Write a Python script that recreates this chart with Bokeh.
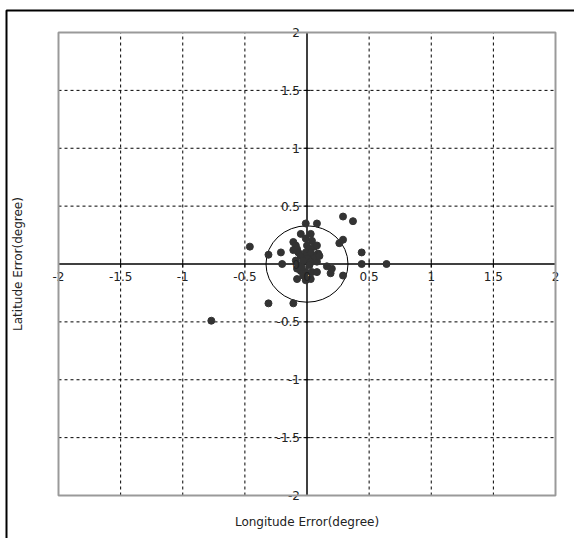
import math
from bokeh.plotting import figure
from bokeh.models import Range1d, BoxAnnotation
from bokeh.core.properties import value
from bokeh.embed import file_html
from bokeh.resources import INLINE

# ---- data ----
lon_err = [0.29, 0.37, -0.01, 0.08, -0.46, -0.31, -0.21, 0.44, 0.44, 0.64,
           0.26, 0.29, -0.20, -0.08, -0.31, -0.11, 0.29, 0.19, 0.20, 0.16, -0.77,
           -0.05, 0.03, -0.01, 0.04, -0.11, -0.09, -0.08, -0.07, -0.11, -0.05,
           0.00, 0.02, 0.06, 0.08, 0.09, 0.04, 0.00, -0.03, 0.03, 0.08,
           -0.09, -0.08, -0.05, -0.01, 0.04, 0.08, -0.03, 0.03, -0.01, -0.07,
           -0.04, 0.02, 0.06, 0.10, -0.01, 0.03]
lat_err = [0.41, 0.37, 0.35, 0.35, 0.15, 0.08, 0.10, 0.10, 0.00, 0.00,
           0.18, 0.21, 0.00, -0.13, -0.34, -0.34, -0.10, -0.08, -0.04, -0.02, -0.49,
           0.26, 0.26, 0.22, 0.20, 0.19, 0.16, 0.13, 0.10, 0.12, 0.07,
           0.16, 0.13, 0.15, 0.16, 0.09, 0.07, 0.06, 0.03, 0.02, 0.02,
           0.03, -0.04, -0.06, -0.07, -0.07, -0.07, -0.10, -0.13, -0.14, -0.01,
           -0.03, -0.01, 0.07, 0.07, 0.10, 0.10]
circle_radius = 0.33
axis_min, axis_max = -2, 2
ticks = [-2, -1.5, -1, -0.5, 0, 0.5, 1, 1.5, 2]
tick_labels = ["-2", "-1.5", "-1", "-0.5", "0", "0.5", "1", "1.5", "2"]
grid_ticks = [-1.5, -1, -0.5, 0.5, 1, 1.5]
x_title = "Longitude Error(degree)"
y_title = "Latitude Error(degree)"

FONT = "DejaVu Sans"
W, H = 574, 538
# layout: plot area in pixels (left, right, top, bottom)
PL, PR, PT, PB = 58, 555, 32, 495
kx = (PR - PL) / (axis_max - axis_min)
ky = (PB - PT) / (axis_max - axis_min)
cx = PL - axis_min * kx
cy = PT + axis_max * ky


def px2x(px):
    return (px - cx) / kx


def py2y(py):
    return (cy - py) / ky


p = figure(width=W, height=H, output_backend="svg", toolbar_location=None,
           x_range=Range1d(px2x(0), px2x(W)), y_range=Range1d(py2y(H), py2y(0)),
           x_axis_location=None, y_axis_location=None,
           min_border=0)
p.min_border_left = p.min_border_right = p.min_border_top = p.min_border_bottom = 0
p.background_fill_color = "white"
p.border_fill_color = "white"
p.outline_line_color = None
p.xgrid.visible = False
p.ygrid.visible = False

n = len(grid_ticks)
lo = [axis_min] * n
hi = [axis_max] * n
# dashed grid lines inside the plot area
p.segment(x0=grid_ticks, y0=lo, x1=grid_ticks, y1=hi,
          line_color="black", line_dash="3 3", line_width=1)
p.segment(x0=lo, y0=grid_ticks, x1=hi, y1=grid_ticks,
          line_color="black", line_dash="3 3", line_width=1)

# plot-area border (gray)
p.add_layout(BoxAnnotation(left=axis_min, right=axis_max, bottom=axis_min, top=axis_max,
                           fill_color=None, fill_alpha=0, line_color="#9a9a9a",
                           line_alpha=1, line_width=2))

# axis lines through the origin
p.segment(x0=[axis_min, 0], y0=[0, axis_min], x1=[axis_max, 0], y1=[0, axis_max],
          line_color="black", line_width=1.5)

# small tick marks on the axis lines
zeros = [0] * len(ticks)
p.scatter(x=ticks, y=zeros, marker="dash", angle=math.pi / 2, size=7,
          line_color="black", line_width=1)
p.scatter(x=zeros, y=ticks, marker="dash", size=7, line_color="black", line_width=1)

# reference circle
p.ellipse(x=0, y=0, width=2 * circle_radius, height=2 * circle_radius,
          fill_color=None, line_color="black", line_width=1)

# data points
p.scatter(x=lon_err, y=lat_err, size=7, fill_color="#333333", line_color="#333333")

# tick labels along the axis lines
p.text(x=ticks, y=zeros, text=tick_labels, y_offset=8,
       text_align="center", text_baseline="top",
       text_font=value(FONT), text_font_size="12px", text_color="#222222")
p.text(x=zeros, y=ticks, text=tick_labels, x_offset=-7,
       text_align="right", text_baseline="middle",
       text_font=value(FONT), text_font_size="12px", text_color="#222222")

# axis titles
p.text(x=[0], y=[py2y(521)], text=[x_title], text_align="center",
       text_baseline="middle", text_font=value(FONT), text_font_size="12px",
       text_color="#222222")
p.text(x=[px2x(17)], y=[0], text=[y_title], angle=math.pi / 2,
       text_align="center", text_baseline="middle", text_font=value(FONT),
       text_font_size="12px", text_color="#222222")

# outer black frame (only its left and top edges are inside the window)
p.add_layout(BoxAnnotation(left=px2x(6), right=px2x(W + 50), top=py2y(10),
                           bottom=py2y(H + 50), fill_color=None, fill_alpha=0,
                           line_color="black", line_alpha=1, line_width=2))

open("out.html", "w").write(file_html(p, INLINE))
